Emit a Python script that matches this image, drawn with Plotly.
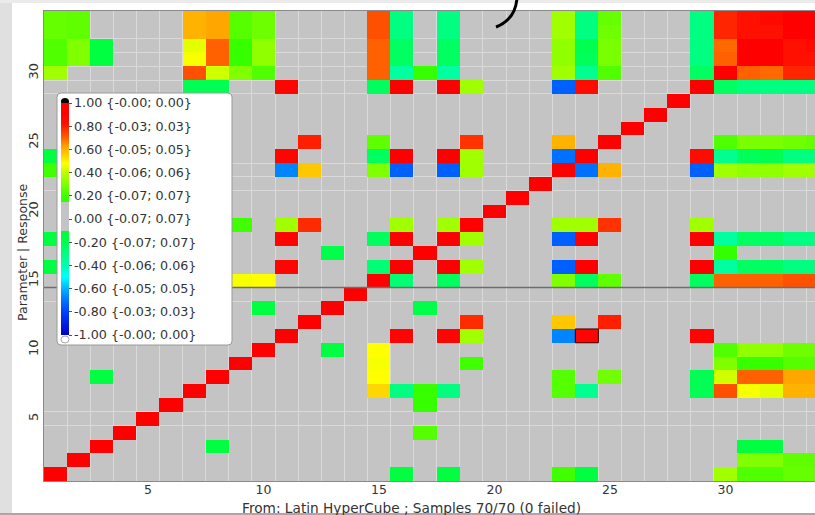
import numpy as np
import plotly.graph_objects as go

# ---------------- data ----------------
N = 34
N_PARAMS = 14
labels = list(range(1, N + 1))
x_ticks = [5, 10, 15, 20, 25, 30]
y_ticks = [5, 10, 15, 20, 25, 30]

# lower-triangle correlations (row > col); matrix is symmetric, diagonal = 1
pair_row = [8, 13,
            15, 15, 15, 15,
            16, 16, 16, 16,
            17, 17, 17, 17,
            18, 18, 18, 18, 18,
            19, 19, 19, 19, 19,
            23, 23, 23, 23, 23, 23, 23, 23, 23,
            24, 24, 24, 24, 24, 24, 24, 24,
            25, 25, 25, 25, 25,
            29, 29, 29, 29, 29, 29, 29, 29, 29,
            30, 30, 30, 30, 30, 30, 30, 30, 30, 30, 30, 30, 30,
            31, 31, 31, 31, 31, 31, 31, 31, 31, 31, 31, 31, 31, 31, 31,
            32, 32, 32, 32, 32, 32, 32, 32, 32, 32, 32, 32, 32, 32, 32, 32,
            33, 33, 33, 33, 33, 33, 33, 33, 33, 33, 33, 33, 33, 33, 33, 33,
            34, 34, 34, 34, 34, 34, 34, 34, 34, 34, 34, 34, 34, 34, 34, 34, 34]
pair_col = [3, 10,
            7, 8, 9, 10,
            1, 7, 11, 15,
            4, 6, 7, 13,
            1, 7, 11, 15, 16,
            9, 11, 12, 16, 18,
            1, 7, 8, 11, 12, 15, 16, 18, 19,
            1, 7, 11, 15, 16, 18, 19, 23,
            8, 12, 15, 19, 23,
            7, 8, 11, 15, 16, 18, 19, 23, 24,
            1, 7, 8, 9, 10, 15, 16, 17, 18, 23, 24, 25, 29,
            1, 2, 3, 7, 8, 9, 10, 15, 16, 18, 23, 24, 25, 29, 30,
            1, 2, 3, 7, 8, 9, 10, 15, 16, 18, 23, 24, 25, 29, 30, 31,
            1, 2, 7, 8, 9, 10, 15, 16, 18, 23, 24, 25, 29, 30, 31, 32,
            1, 2, 7, 8, 9, 10, 15, 16, 18, 23, 24, 25, 29, 30, 31, 32, 33]
pair_r = [-0.15, -0.15,
          0.54, 0.48, 0.47, 0.48,
          -0.15, -0.30, 0.88, -0.27,
          0.23, 0.17, 0.17, -0.18,
          -0.15, -0.30, 0.88, -0.23, 0.90,
          0.20, 0.35, 0.78, 0.35, 0.35,
          0.20, 0.23, 0.23, -0.67, 0.565, 0.30, -0.74, -0.74, 0.35,
          -0.15, -0.33, 0.88, -0.23, 0.90, 0.90, 0.35, -0.71,
          0.275, 0.80, 0.25, 0.77, 0.60,
          -0.21, -0.21, 0.88, -0.23, 0.90, 0.90, 0.35, -0.74, 0.84,
          0.35, 0.725, 0.42, 0.30, 0.225, 0.70, -0.367, 0.17, -0.367, 0.35, -0.333, 0.225, -0.233,
          0.225, 0.30, -0.15, 0.47, 0.70, 0.17, 0.325, 0.70, -0.233, -0.233, 0.325, -0.22, 0.29, -0.30, 0.70,
          0.225, 0.30, -0.15, 0.445, 0.70, 0.17, 0.325, 0.70, -0.233, -0.233, 0.325, -0.20, 0.29, -0.30, 0.69, 0.93,
          0.26, 0.25, 0.60, 0.62, 0.233, 0.27, 0.725, -0.30, -0.30, 0.35, -0.30, 0.275, -0.30, 0.79, 0.82, 0.82,
          0.26, 0.25, 0.60, 0.62, 0.233, 0.27, 0.725, -0.30, -0.30, 0.35, -0.30, 0.26, -0.30, 0.79, 0.82, 0.86, 0.97]

legend_vals = [1.0, 0.8, 0.6, 0.4, 0.2, 0.0, -0.2, -0.4, -0.6, -0.8, -1.0]
legend_lo = [-0.00, -0.03, -0.05, -0.06, -0.07, -0.07, -0.07, -0.06, -0.05, -0.03, -0.00]
legend_hi = [0.00, 0.03, 0.05, 0.06, 0.07, 0.07, 0.07, 0.06, 0.05, 0.03, 0.00]

selected_cell = (11, 24)  # (row, col) highlighted cell
hgrid_rows = [4.5, 5.5, 13.5, 21.5, 22.5, 23.5, 28.5, 29.5, 30.5, 31.5, 32.5]

x_title = "From: Latin HyperCube ; Samples 70/70 (0 failed)"
y_title = "Parameter | Response"

# ---------------- build matrix ----------------
z = np.full((N, N), np.nan)
for k in range(N):
    z[k, k] = 1.0
for i, j, r in zip(pair_row, pair_col, pair_r):
    z[i - 1, j - 1] = r
    z[j - 1, i - 1] = r

stops = [(-1.0, '#0000c8'), (-0.8, '#0040ff'), (-0.65, '#0090ff'), (-0.5, '#00ffff'),
         (-0.4, '#00ffb0'), (-0.3, '#00ff80'), (-0.2, '#00ff50'), (-0.1, '#00ff30'),
         (-0.1, '#c4c4c4'), (0.15, '#c4c4c4'), (0.15, '#30ff00'), (0.2, '#40ff00'),
         (0.3, '#80ff00'), (0.4, '#c0ff00'), (0.48, '#ffff00'), (0.55, '#ffd000'),
         (0.63, '#ffa000'), (0.7, '#ff6000'), (0.75, '#ff4000'), (0.82, '#ff1000'),
         (0.9, '#ff0000'), (1.0, '#ff0000')]
colorscale = [[(v + 1) / 2, c] for v, c in stops]

legend_text = [f"{v:.2f} {{{lo:.2f}; {hi:.2f}}}" for v, lo, hi in zip(legend_vals, legend_lo, legend_hi)]

# ---------------- geometry helpers (pixel -> paper) ----------------
W, H = 815, 515
ML, MR, MT, MB = 44, 0, 11, 34
PW, PH = W - ML - MR, H - MT - MB
CELL_W = 23.1


def px2x(px):
    return (px - ML) / PW


def py2y(py):
    return (H - MB - py) / PH


def rounded_rect(x0, y0, x1, y1, r):
    pts = [
        f"M {px2x(x0 + r)},{py2y(y0)}",
        f"L {px2x(x1 - r)},{py2y(y0)}",
        f"Q {px2x(x1)},{py2y(y0)} {px2x(x1)},{py2y(y0 + r)}",
        f"L {px2x(x1)},{py2y(y1 - r)}",
        f"Q {px2x(x1)},{py2y(y1)} {px2x(x1 - r)},{py2y(y1)}",
        f"L {px2x(x0 + r)},{py2y(y1)}",
        f"Q {px2x(x0)},{py2y(y1)} {px2x(x0)},{py2y(y1 - r)}",
        f"L {px2x(x0)},{py2y(y0 + r)}",
        f"Q {px2x(x0)},{py2y(y0)} {px2x(x0 + r)},{py2y(y0)} Z",
    ]
    return " ".join(pts)


FONT = "DejaVu Sans"

fig = go.Figure()
fig.add_trace(go.Heatmap(
    z=z, x=labels, y=labels, colorscale=colorscale, zmin=-1, zmax=1,
    hoverongaps=False,
    colorbar=dict(
        x=px2x(61), xanchor='left', xpad=0,
        y=py2y(219), yanchor='middle', ypad=0,
        len=232, lenmode='pixels', thickness=8, thicknessmode='pixels',
        tickmode='array', tickvals=legend_vals, ticktext=legend_text,
        ticks='outside', ticklen=3, tickcolor='#555', tickwidth=1,
        tickfont=dict(size=12.7, color='#333', family=FONT),
        outlinewidth=0, borderwidth=0, bgcolor='rgba(0,0,0,0)'),
))

shapes = []
# outer frame strips
shapes.append(dict(type='rect', xref='paper', yref='paper', x0=px2x(0), x1=px2x(12), y0=py2y(515), y1=py2y(0),
                   fillcolor='#e0e0e0', line=dict(width=0), layer='below'))
shapes.append(dict(type='rect', xref='paper', yref='paper', x0=px2x(0), x1=px2x(815), y0=py2y(3), y1=py2y(0),
                   fillcolor='#ebebeb', line=dict(width=0), layer='below'))
shapes.append(dict(type='rect', xref='paper', yref='paper', x0=px2x(0), x1=px2x(815), y0=py2y(515), y1=py2y(513),
                   fillcolor='#a8a8a8', line=dict(width=0), layer='below'))
# parameter / response separator
shapes.append(dict(type='line', xref='paper', yref='y', x0=0, x1=1, y0=N_PARAMS + 0.5, y1=N_PARAMS + 0.5,
                   line=dict(color='#6e6e6e', width=1.5), layer='above'))
# highlighted cell
sr, sc = selected_cell
shapes.append(dict(type='rect', xref='x', yref='y', x0=sc - 0.5, x1=sc + 0.5, y0=sr - 0.5, y1=sr + 0.5,
                   line=dict(color='#3a0000', width=1), layer='above'))
# legend box
shapes.append(dict(type='path', xref='paper', yref='paper', path=rounded_rect(57, 93, 232, 345, 4),
                   fillcolor='white', line=dict(color='#9a9a9a', width=1), layer='above'))
# colorbar end caps
shapes.append(dict(type='circle', xref='paper', yref='paper', x0=px2x(61), x1=px2x(69), y0=py2y(105), y1=py2y(98),
                   fillcolor='black', line=dict(width=0), layer='above'))
shapes.append(dict(type='circle', xref='paper', yref='paper', x0=px2x(61), x1=px2x(69), y0=py2y(343), y1=py2y(336),
                   fillcolor='white', line=dict(color='#aaaaaa', width=1), layer='above'))
# stray pen stroke at the top
shapes.append(dict(type='path', xref='paper', yref='paper',
                   path=f"M {px2x(517)},{py2y(-2)} C {px2x(516)},{py2y(12)} {px2x(509)},{py2y(22)} {px2x(496)},{py2y(27)}",
                   line=dict(color='black', width=3), layer='above'))

annotations = [
    dict(text=x_title, xref='paper', yref='paper', x=px2x(411), y=py2y(508), showarrow=False,
         xanchor='center', yanchor='middle', font=dict(size=13.7, color='#333', family=FONT)),
    dict(text=y_title, xref='paper', yref='paper', x=px2x(22), y=py2y(252), showarrow=False,
         textangle=-90, xanchor='center', yanchor='middle', font=dict(size=12.5, color='#333', family=FONT)),
]

fig.update_layout(
    width=W, height=H, autosize=False,
    margin=dict(l=ML, r=MR, t=MT, b=MB, pad=0),
    paper_bgcolor='white', plot_bgcolor='#c4c4c4',
    font=dict(family=FONT, color='#333'),
    shapes=shapes, annotations=annotations,
    xaxis=dict(range=[0.5, 0.5 + PW / CELL_W], tickmode='array', tickvals=x_ticks, ticks='',
               ticklabelstandoff=-3,
               showgrid=False, zeroline=False, showline=True, linecolor='#8a8a8a', linewidth=1, mirror=True,
               tickfont=dict(size=12.5, color='#333'),
               minor=dict(tickmode='array', tickvals=[k + 0.5 for k in range(N + 1)], showgrid=True,
                          gridcolor='#dadada', gridwidth=1)),
    yaxis=dict(range=[0.5, N + 0.5], tickmode='array', tickvals=y_ticks, ticks='', tickangle=-90,
               showgrid=False, zeroline=False, showline=True, linecolor='#8a8a8a', linewidth=1,
               tickfont=dict(size=13, color='#333'),
               minor=dict(tickmode='array', tickvals=hgrid_rows, showgrid=True,
                          gridcolor='#dadada', gridwidth=1)),
)

fig.write_html("out.html")
